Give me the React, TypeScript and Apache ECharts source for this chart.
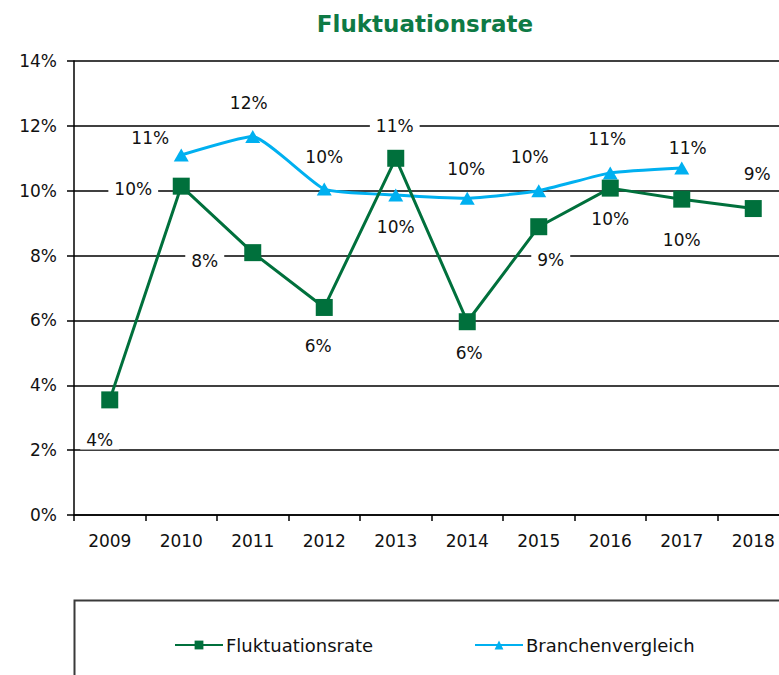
import React, { useEffect, useRef } from "react";
import * as echarts from "echarts";

const years = ["2009", "2010", "2011", "2012", "2013", "2014", "2015", "2016", "2017", "2018"];
const fluktuationsrate = [3.55, 10.14, 8.09, 6.4, 11.0, 5.96, 8.89, 10.08, 9.74, 9.45];
const branchenvergleich = [null, 11.1, 11.67, 10.05, 9.87, 9.77, 10.0, 10.55, 10.7, null];
const yTicks = [0, 2, 4, 6, 8, 10, 12, 14];

// label placement (offset of label centre from the marker centre)
const fluktLabelOffsets = [[-10, 40], [-48, 3], [-48, 8], [-6, 39], [-1, -32], [2, 31], [12, 33], [0, 31], [0, 41], [4, -35]];
const branchLabelOffsets = [[0, 0], [-31, -17], [-4, -34], [0, -32], [0, 32], [-1, -29], [-9, -34], [-3, -34], [6, -20], [0, 0]];

const FONT = "'DejaVu Sans', Verdana, sans-serif";
const GREEN = "#00703C";
const BLUE = "#00B0F0";

function makeData(values: (number | null)[], offsets: number[][]) {
  return values.map((v, i) =>
    v === null
      ? null
      : {
          value: v,
          label: { offset: offsets[i] },
        }
  );
}

export default function App() {
  const ref = useRef<HTMLDivElement>(null);
  useEffect(() => {
    if (!ref.current) return;
    const chart = echarts.init(ref.current, null, { renderer: "svg" });
    const labelCommon = {
      show: true,
      position: "inside",
      fontFamily: FONT,
      fontSize: 17,
      color: "#111",
      backgroundColor: "#fff",
      padding: [1, 6],
      formatter: (p: any) => Math.round(p.value) + "%",
    };
    const legendText = { fontFamily: FONT, fontSize: 18, color: "#111", padding: [0, 0, 0, -2] };
    chart.setOption({
      animation: false,
      graphic: [
        {
          type: "text",
          x: 425,
          y: 24,
          style: {
            text: "Fluktuationsrate",
            fontFamily: FONT,
            fontWeight: "bold",
            fontSize: 23,
            fill: "#0E7A45",
            textAlign: "center",
            textVerticalAlign: "middle",
          },
        },
        {
          type: "rect",
          shape: { x: 74.5, y: 600.5, width: 800, height: 200 },
          style: { fill: "none", stroke: "#3a3a3a", lineWidth: 2 },
        },
      ],
      legend: [
        {
          data: ["Fluktuationsrate"],
          left: 174,
          top: 636,
          padding: 0,
          itemWidth: 48,
          itemHeight: 11,
          textStyle: legendText,
        },
        {
          data: ["Branchenvergleich"],
          left: 474,
          top: 636,
          padding: 0,
          itemWidth: 48,
          itemHeight: 11,
          textStyle: legendText,
        },
      ],
      grid: { left: 74, top: 61, width: 715, height: 454, containLabel: false },
      xAxis: {
        type: "category",
        data: years,
        boundaryGap: true,
        axisLine: { lineStyle: { color: "#000", width: 1.5 } },
        axisTick: { show: true, length: 6, lineStyle: { color: "#000", width: 1.5 } },
        axisLabel: { fontFamily: FONT, fontSize: 17, color: "#111", margin: 17 },
      },
      yAxis: {
        type: "value",
        min: yTicks[0],
        max: yTicks[yTicks.length - 1],
        interval: 2,
        axisLine: { show: true, lineStyle: { color: "#000", width: 1.5 } },
        axisTick: { show: true, length: 7, lineStyle: { color: "#000", width: 1.5 } },
        axisLabel: { fontFamily: FONT, fontSize: 17, color: "#111", margin: 17, formatter: "{value}%" },
        splitLine: { show: true, lineStyle: { color: "#000", width: 1.5 } },
      },
      series: [
        {
          name: "Fluktuationsrate",
          type: "line",
          data: makeData(fluktuationsrate, fluktLabelOffsets),
          symbol: "rect",
          symbolSize: 17,
          lineStyle: { color: GREEN, width: 3 },
          itemStyle: { color: GREEN },
          label: labelCommon,
          z: 3,
        },
        {
          name: "Branchenvergleich",
          type: "line",
          data: makeData(branchenvergleich, branchLabelOffsets),
          symbol: "triangle",
          symbolSize: [15, 13],
          smooth: 0.15,
          lineStyle: { color: BLUE, width: 3 },
          itemStyle: { color: BLUE },
          label: labelCommon,
          z: 2,
        },
      ],
    });
    return () => chart.dispose();
  }, []);
  return (
    <div style={{ position: "absolute", left: 0, top: 0, width: 779, height: 675, overflow: "hidden" }}>
      <div ref={ref} style={{ width: 800, height: 675 }} />
    </div>
  );
}
